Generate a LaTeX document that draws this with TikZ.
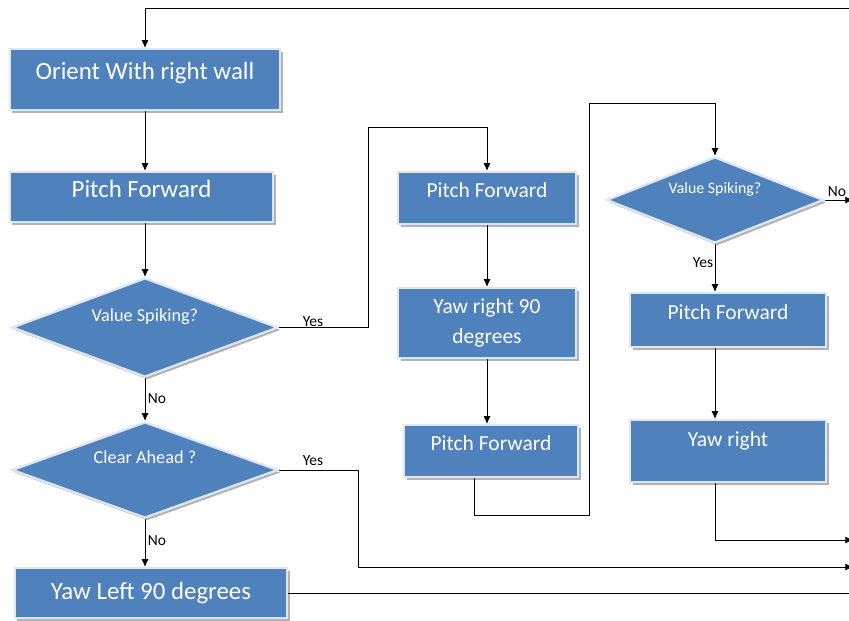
\documentclass[tikz,border=0pt]{standalone}
\usepackage{fontspec}
\setmainfont{Carlito}
\usetikzlibrary{positioning, shapes.geometric, shadows, arrows.meta}

\definecolor{boxblue}{RGB}{79,129,189}
\definecolor{boxedge}{RGB}{222,230,240}

\tikzset{
  flow/.style={fill=boxblue, draw=boxedge, line width=1.6pt, text=white,
    drop shadow={shadow xshift=1.8pt, shadow yshift=-1.8pt, fill=black!30, opacity=1}},
  box/.style={flow, rectangle, inner sep=2pt, align=center},
  bigbox/.style={box, font=\fontsize{17.7}{21}\selectfont},
  midbox/.style={box, font=\fontsize{15.3}{21}\selectfont},
  lift/.style={text depth=12pt},
  ask/.style={flow, diamond, inner sep=0pt, aspect=2.7},
  tag/.style={font=\fontsize{11}{13}\selectfont, inner sep=1pt},
  link/.style={line width=0.6pt},
}

\begin{document}
\begin{tikzpicture}[x=0.025cm, y=-0.025cm, >={Latex[length=5.5pt,width=5pt]}]
  \useasboundingbox (0,0) rectangle (849,620);

  % left column
  \node (orient) at (145,79.5) [bigbox, lift, minimum width=6.75cm, minimum height=1.525cm] {Orient With right wall};
  \node (pitchA) at (141.5,197) [bigbox, lift, minimum width=6.575cm, minimum height=1.25cm] {Pitch Forward};
  \node (spikeA) at (145,327.5) [ask, minimum width=6.65cm, minimum height=2.475cm,
    font=\fontsize{13}{15}\selectfont] {\raisebox{0.16cm}[0pt][0pt]{Value Spiking?}};
  \node (clear) at (145,470) [ask, minimum width=6.65cm, minimum height=2.4cm,
    font=\fontsize{13}{15}\selectfont] {\raisebox{0.17cm}[0pt][0pt]{Clear Ahead ?}};
  \node (yawL) at (151,593) [bigbox, minimum width=6.8cm, minimum height=1.25cm] {Yaw Left 90 degrees};

  % middle column
  \node (pitchB) at (487,198) [midbox, lift, minimum width=4.45cm, minimum height=1.3cm] {Pitch Forward};
  \node (yawB) at (487,323) [midbox, minimum width=4.45cm, minimum height=1.75cm] {Yaw right 90\\degrees};
  \node (pitchC) at (491,451) [midbox, lift, minimum width=4.35cm, minimum height=1.3cm] {Pitch Forward};

  % right column
  \node (spikeB) at (715,200) [ask, minimum width=5.425cm, minimum height=2.15cm,
    font=\fontsize{11.3}{13}\selectfont] {\raisebox{0.17cm}[0pt][0pt]{Value Spiking?}};
  \node (pitchD) at (728,320) [midbox, lift, minimum width=4.9cm, minimum height=1.35cm] {Pitch Forward};
  \node (yawD) at (728,451) [midbox, minimum width=4.9cm, minimum height=1.55cm] {\raisebox{0.11cm}[0pt][0pt]{Yaw right}};

  % turning points
  \coordinate (back) at (849,8);
  \coordinate (riseA) at (368,127);
  \coordinate (dropA) at (358,567);
  \coordinate (exitB) at (853,567);
  \coordinate (exitA) at (853,540);
  \coordinate (loopA) at (474,515);
  \coordinate (loopB) at (589,103);

  % connectors
  \draw [link, ->] (back) -| (orient.north);
  \draw [link, ->] (orient.south) -- (orient.south |- pitchA.north);
  \draw [link, ->] (pitchA.south -| spikeA) -- (spikeA.north);
  \draw [link, ->] (spikeA.east) -| (riseA) -| (pitchB.north);
  \draw [link, ->] (spikeA.south) -- (clear.north);
  \draw [link, ->] (clear.east) -| (dropA) -- (exitB);
  \draw [link, ->] (clear.south) -- (clear.south |- yawL.north);
  \draw [link] (yawL.east) -- (yawL.east -| exitB);
  \draw [link, ->] (pitchB) -- (yawB);
  \draw [link, ->] (yawB.south) -- (yawB.south |- pitchC.north);
  \draw [link, ->] (pitchC.south -| loopA) -- (loopA) -| (loopB) -| (spikeB.north);
  \draw [link, ->] (spikeB.east) -- (spikeB.east -| exitB);
  \draw [link, ->] (spikeB.south) -- (spikeB.south |- pitchD.north);
  \draw [link, ->] (pitchD.south -| spikeB.south) -- (spikeB.south |- yawD.north);
  \draw [link, ->] (yawD.south -| spikeB.south) |- (exitA);

  % branch labels
  \node (yesA) at (313,322) [tag] {Yes};
  \node (noA) at (157,399) [tag] {No};
  \node (yesB) at (313,461) [tag] {Yes};
  \node (noB) at (157,541) [tag] {No};
  \node (noC) at (837,192) [tag] {No};
  \node (yesC) at (703,263) [tag] {Yes};
\end{tikzpicture}
\end{document}
